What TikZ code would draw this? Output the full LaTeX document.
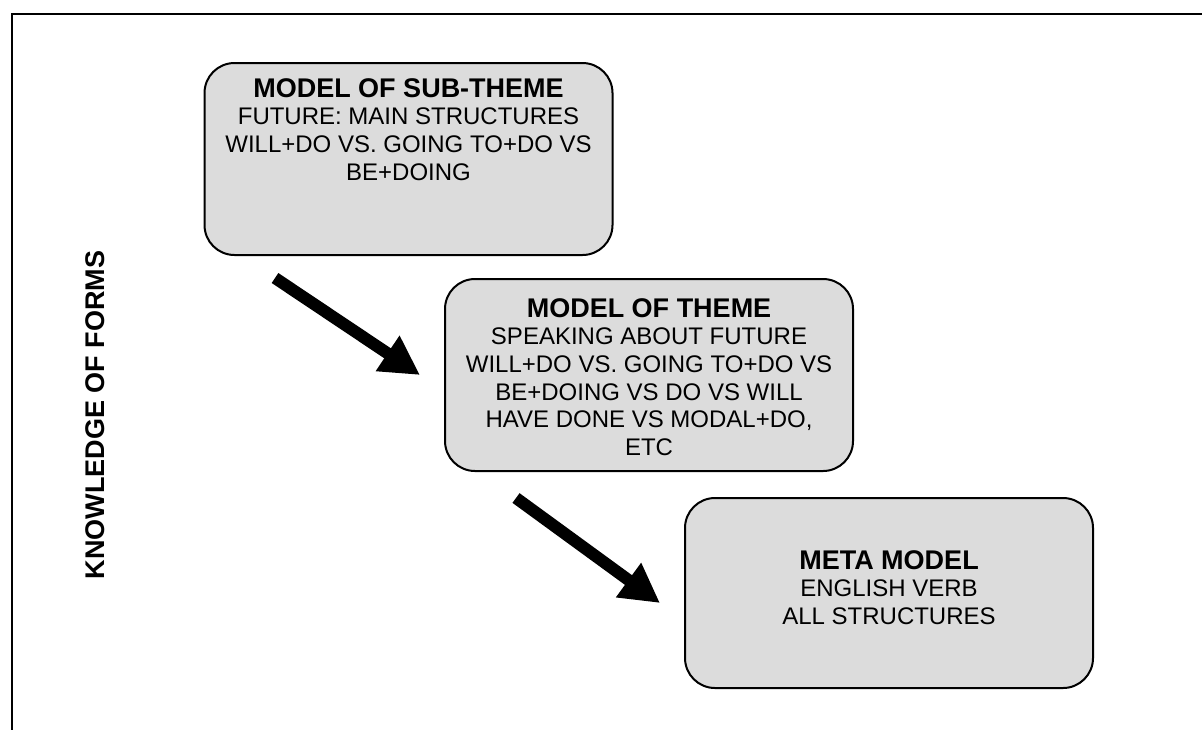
\documentclass[tikz,border=0pt]{standalone}
\usepackage{fontspec}
\setmainfont{Liberation Sans}
\usetikzlibrary{arrows.meta}
\definecolor{boxgray}{RGB}{220,220,220}
\newcommand{\boxhead}[1]{{\fontsize{13.5pt}{15.5pt}\selectfont\bfseries #1}}
\tikzset{
  modelbox/.style={draw=black, line width=1pt, fill=boxgray, rounded corners=15pt,
    inner sep=0pt, minimum width=204pt, minimum height=96pt},
  boxtext/.style={align=center, inner sep=0pt, anchor=north,
    font=\fontsize{12pt}{13.8pt}\selectfont},
  bigarrow/.style={line width=6pt, -{Triangle[length=19.5pt,width=20pt]}},
}
\begin{document}
\begin{tikzpicture}[x=0.5pt, y=-0.5pt]
\useasboundingbox (0,0) rectangle (1202,729);
\clip (0,0) rectangle (1202,729);
% outer frame, open past the right and lower edges
\draw[line width=1pt] (12,14) rectangle (1230,760);

% model boxes
\node[modelbox] (sub) at (408.5,159) {};
\node[modelbox] (theme) at (649,375) {};
\node[modelbox, minimum height=95pt] (meta) at (889,593) {};

\node[boxtext] (subtxt) at (408.5,78) {\boxhead{MODEL OF SUB-THEME}\\FUTURE: MAIN STRUCTURES\\WILL+DO VS. GOING TO+DO VS\\BE+DOING};
\node[boxtext] (themetxt) at (649,298) {\boxhead{MODEL OF THEME}\\SPEAKING ABOUT FUTURE\\WILL+DO VS. GOING TO+DO VS\\BE+DOING VS DO VS WILL\\HAVE DONE VS MODAL+DO,\\ETC};
\node[boxtext] (metatxt) at (889,550) {\boxhead{META MODEL}\\ENGLISH VERB\\ALL STRUCTURES};

% side label
\node[rotate=90, inner sep=0pt, font=\fontsize{13.5pt}{15.5pt}\selectfont\bfseries] (axis) at (95.5,415) {KNOWLEDGE OF FORMS};

% arrows between levels
\coordinate (a1s) at (275,278);
\coordinate (a1e) at (420,375);
\coordinate (a2s) at (516,498);
\coordinate (a2e) at (660,603);
\draw[bigarrow] (a1s) -- (a1e);
\draw[bigarrow] (a2s) -- (a2e);
\end{tikzpicture}
\end{document}
